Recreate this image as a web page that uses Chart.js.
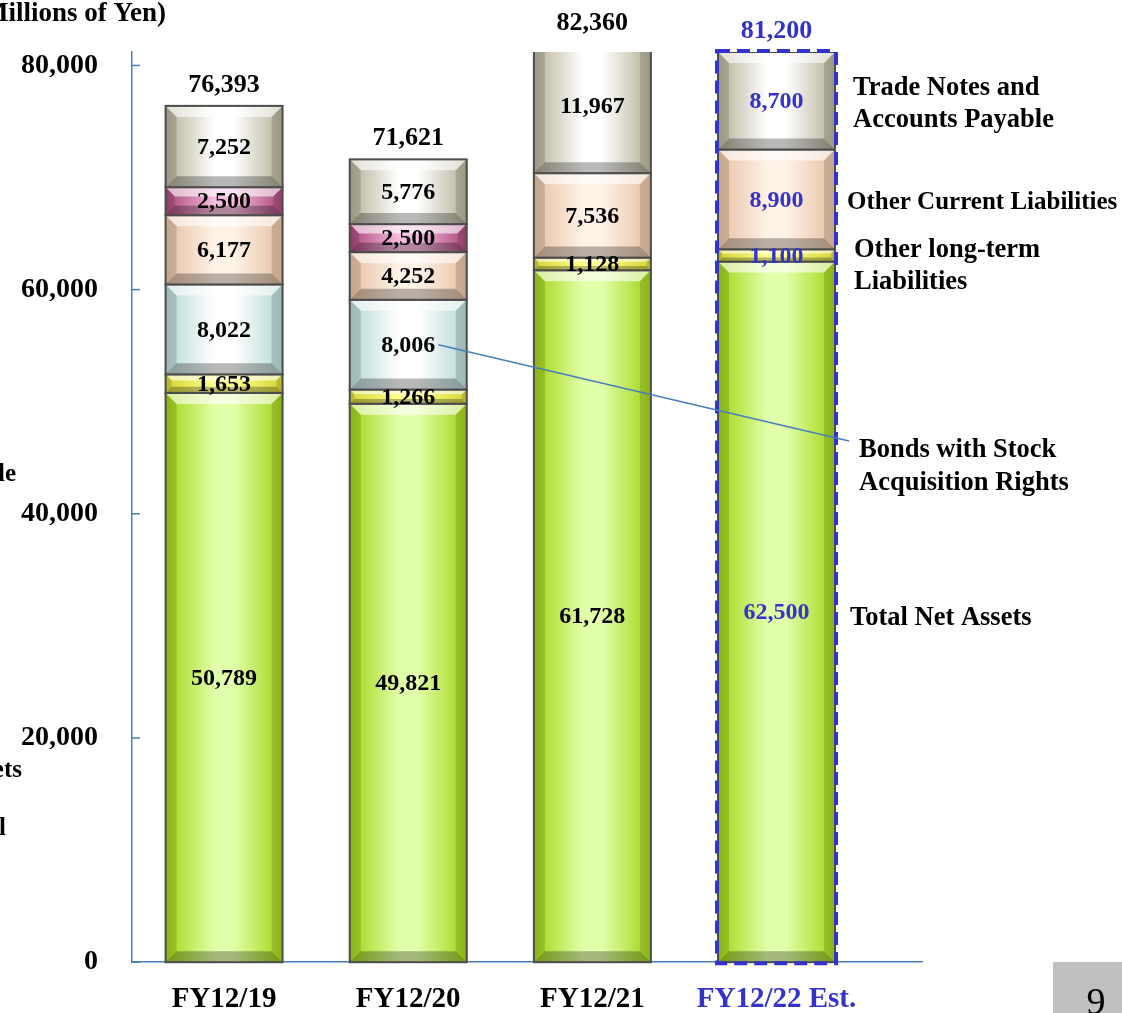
<!DOCTYPE html>
<html lang="en">
<head>
    <meta charset="UTF-8">
    <title>Liabilities and Net Assets</title>
    <script src="https://cdn.jsdelivr.net/npm/chart.js"></script>
    <style>
        html, body { margin: 0; padding: 0; background: #fff; }
        #wrap { width: 1122px; height: 1013px; }
    </style>
</head>
<body>
    <div id="wrap"><canvas id="chart" width="1122" height="1013"></canvas></div>

    <script>
        // values, millions of yen
        const categories = ['FY12/19', 'FY12/20', 'FY12/21', 'FY12/22 Est.'];
        const netAssets = [50789, 49821, 61728, 62500];
        const longTermLiab = [1653, 1266, 1128, 1100];
        const bondsStockRights = [8022, 8006, null, null];
        const otherCurrentLiab = [6177, 4252, 7536, 8900];
        const pinkSeries = [2500, 2500, null, null];   // its label is cut off on the left
        const tradePayable = [7252, 5776, 11967, 8700];
        const totals = [76393, 71621, 82360, 81200];
        const yTicks = [0, 20000, 40000, 60000, 80000];

        const BLUE = '#3333cc';
        const AXIS = '#4a7ebb';
        const FONT = "'Liberation Serif', 'Times New Roman', serif";

        // edge / centre colours for the bevelled blocks
        const series = [
            { label: 'Total Net Assets', data: netAssets, edge: '#a2d414', center: '#e2ffaa' },
            { label: 'Other long-term Liabilities', data: longTermLiab, edge: '#d4d436', center: '#ffff8c' },
            { label: 'Bonds with Stock Acquisition Rights', data: bondsStockRights, edge: '#b4d8d4', center: '#ffffff' },
            { label: 'Other Current Liabilities', data: otherCurrentLiab, edge: '#e6c0a2', center: '#fff2e6' },
            { label: 'Short-term', data: pinkSeries, edge: '#a8457a', center: '#f6bcdc' },
            { label: 'Trade Notes and Accounts Payable', data: tradePayable, edge: '#b4b096', center: '#ffffff' }
        ];

        function fmt(v) {
            return v.toLocaleString('en-US');
        }

        function drawBlock(ctx, x0, x1, y0, y1, edge, center) {
            let w = x1 - x0, h = y1 - y0;
            if (h <= 0) return;
            let g = ctx.createLinearGradient(x0, 0, x1, 0);
            g.addColorStop(0, edge);
            g.addColorStop(0.42, center);
            g.addColorStop(0.58, center);
            g.addColorStop(1, edge);
            ctx.fillStyle = g;
            ctx.fillRect(x0, y0, w, h);

            let b = Math.min(11, h / 3, w / 3);
            // top bevel
            ctx.fillStyle = 'rgba(255,255,255,0.6)';
            ctx.beginPath();
            ctx.moveTo(x0, y0); ctx.lineTo(x1, y0); ctx.lineTo(x1 - b, y0 + b); ctx.lineTo(x0 + b, y0 + b);
            ctx.closePath(); ctx.fill();
            // bottom bevel
            ctx.fillStyle = 'rgba(0,0,0,0.28)';
            ctx.beginPath();
            ctx.moveTo(x0, y1); ctx.lineTo(x1, y1); ctx.lineTo(x1 - b, y1 - b); ctx.lineTo(x0 + b, y1 - b);
            ctx.closePath(); ctx.fill();
            // sides
            ctx.fillStyle = 'rgba(0,0,0,0.14)';
            ctx.beginPath();
            ctx.moveTo(x0, y0); ctx.lineTo(x0 + b, y0 + b); ctx.lineTo(x0 + b, y1 - b); ctx.lineTo(x0, y1);
            ctx.closePath(); ctx.fill();
            ctx.beginPath();
            ctx.moveTo(x1, y0); ctx.lineTo(x1 - b, y0 + b); ctx.lineTo(x1 - b, y1 - b); ctx.lineTo(x1, y1);
            ctx.closePath(); ctx.fill();

            ctx.strokeStyle = '#4c4c4c';
            ctx.lineWidth = 2;
            ctx.strokeRect(x0, y0, w, h);
        }

        const decor = {
            id: 'decor',
            afterDatasetsDraw(chart) {
                let ctx = chart.ctx;
                let area = chart.chartArea;
                let yScale = chart.scales.y;

                // bevelled blocks over the flat bars
                ctx.save();
                ctx.beginPath();
                ctx.rect(area.left - 5, area.top, area.right - area.left + 10, area.bottom - area.top + 5);
                ctx.clip();
                chart.data.datasets.forEach((ds, di) => {
                    chart.getDatasetMeta(di).data.forEach((el, i) => {
                        if (ds.data[i].y == null) return;
                        let half = el.width / 2;
                        drawBlock(ctx, el.x - half, el.x + half, Math.min(el.y, el.base), Math.max(el.y, el.base),
                            series[di].edge, series[di].center);
                    });
                });
                ctx.restore();

                // values inside the blocks
                ctx.save();
                ctx.textAlign = 'center';
                ctx.textBaseline = 'middle';
                ctx.font = 'bold 24px ' + FONT;
                chart.data.datasets.forEach((ds, di) => {
                    chart.getDatasetMeta(di).data.forEach((el, i) => {
                        let v = ds.data[i].y;
                        if (v == null) return;
                        ctx.fillStyle = i === 3 ? BLUE : '#000';
                        ctx.fillText(fmt(v), el.x, (el.y + el.base) / 2 + 1);
                    });
                });

                // totals above the bars
                ctx.font = 'bold 26px ' + FONT;
                let xScale = chart.scales.x;
                totals.forEach((t, i) => {
                    let top = yScale.getPixelForValue(t);
                    let y = top < area.top - 1 ? area.top - 29 : top - 21;
                    ctx.fillStyle = i === 3 ? BLUE : '#000';
                    ctx.fillText(fmt(t), xScale.getPixelForValue(i), y);
                });

                // dashed frame round the estimate bar
                let last = chart.getDatasetMeta(5).data[3];
                let base = chart.getDatasetMeta(0).data[3];
                let hw = last.width / 2 + 1;
                ctx.strokeStyle = BLUE;
                ctx.lineWidth = 4;
                ctx.setLineDash([13, 7]);
                ctx.strokeRect(last.x - hw, last.y - 1, hw * 2, base.base - last.y + 2);
                ctx.setLineDash([]);

                // leader line from the bonds value to its label
                let bond = chart.getDatasetMeta(2).data[1];
                ctx.strokeStyle = AXIS;
                ctx.lineWidth = 1.5;
                ctx.beginPath();
                ctx.moveTo(bond.x + 30, (bond.y + bond.base) / 2);
                ctx.lineTo(849, 441);
                ctx.stroke();
                ctx.restore();
            },
            afterDraw(chart) {
                let ctx = chart.ctx;
                let area = chart.chartArea;
                let yScale = chart.scales.y;
                ctx.save();

                // inside tick marks on the value axis
                ctx.strokeStyle = AXIS;
                ctx.lineWidth = 1.5;
                yTicks.forEach(t => {
                    let y = yScale.getPixelForValue(t);
                    ctx.beginPath();
                    ctx.moveTo(area.left, y);
                    ctx.lineTo(area.left + 8, y);
                    ctx.stroke();
                });

                // series names on the right
                ctx.fillStyle = '#000';
                ctx.textAlign = 'left';
                ctx.textBaseline = 'middle';
                ctx.font = 'bold 26.5px ' + FONT;
                ctx.fillText('Trade Notes and', 853, 88);
                ctx.fillText('Accounts Payable', 853, 120);
                ctx.fillText('Other long-term', 854, 250);
                ctx.fillText('Liabilities', 854, 282);
                ctx.fillText('Bonds with Stock', 859, 450);
                ctx.fillText('Acquisition Rights', 859, 483);
                ctx.fillText('Total Net Assets', 850, 618);
                ctx.font = 'bold 25px ' + FONT;
                ctx.fillText('Other Current Liabilities', 847, 203);

                // pieces of labels cut off at the left edge
                ctx.textAlign = 'right';
                ctx.font = 'bold 27px ' + FONT;
                ctx.fillText('(Millions of Yen)', 166, 14);
                ctx.font = 'bold 25px ' + FONT;
                ctx.fillText('le', 16, 475);
                ctx.fillText('ets', 22, 771);
                ctx.fillText('l', 6, 829);

                // page number box
                ctx.fillStyle = '#c0c0c0';
                ctx.fillRect(1053, 962, 69, 51);
                ctx.fillStyle = '#000';
                ctx.textAlign = 'center';
                ctx.textBaseline = 'alphabetic';
                ctx.font = '38px ' + FONT;
                ctx.fillText('9', 1096, 1014);
                ctx.restore();
            }
        };

        let ctx = document.getElementById('chart').getContext('2d');

        new Chart(ctx, {
            type: 'bar',
            data: {
                datasets: series.map(s => ({
                    label: s.label,
                    data: s.data.map((v, i) => ({ x: i, y: v })),
                    backgroundColor: s.edge,
                    borderWidth: 0,
                    barThickness: 117
                }))
            },
            options: {
                responsive: false,
                animation: false,
                layout: { padding: { top: 52, right: 200, left: 0, bottom: 0 } },
                plugins: {
                    legend: { display: false },
                    tooltip: { enabled: false }
                },
                scales: {
                    x: {
                        type: 'linear',
                        stacked: true,
                        offset: false,
                        min: -0.5,
                        max: 3.79,
                        grid: { display: false, drawTicks: false, offset: false },
                        border: { display: true, color: AXIS, width: 1.5 },
                        afterBuildTicks: scale => { scale.ticks = categories.map((c, i) => ({ value: i })); },
                        afterFit: scale => { scale.height = 50; },
                        ticks: {
                            padding: 20,
                            maxRotation: 0,
                            autoSkip: false,
                            font: { family: FONT, size: 29, weight: 'bold' },
                            color: c => c.index === 3 ? BLUE : '#000',
                            callback: v => categories[v]
                        }
                    },
                    y: {
                        stacked: true,
                        min: 0,
                        max: 81200,
                        grid: { display: false, drawTicks: false },
                        border: { display: true, color: AXIS, width: 1.5 },
                        afterBuildTicks: scale => { scale.ticks = yTicks.map(v => ({ value: v })); },
                        afterFit: scale => { scale.width = 132; },
                        ticks: {
                            padding: 34,
                            font: { family: FONT, size: 28, weight: 'bold' },
                            color: '#000',
                            callback: v => fmt(v)
                        }
                    }
                }
            },
            plugins: [decor]
        });
    </script>
</body>
</html>
